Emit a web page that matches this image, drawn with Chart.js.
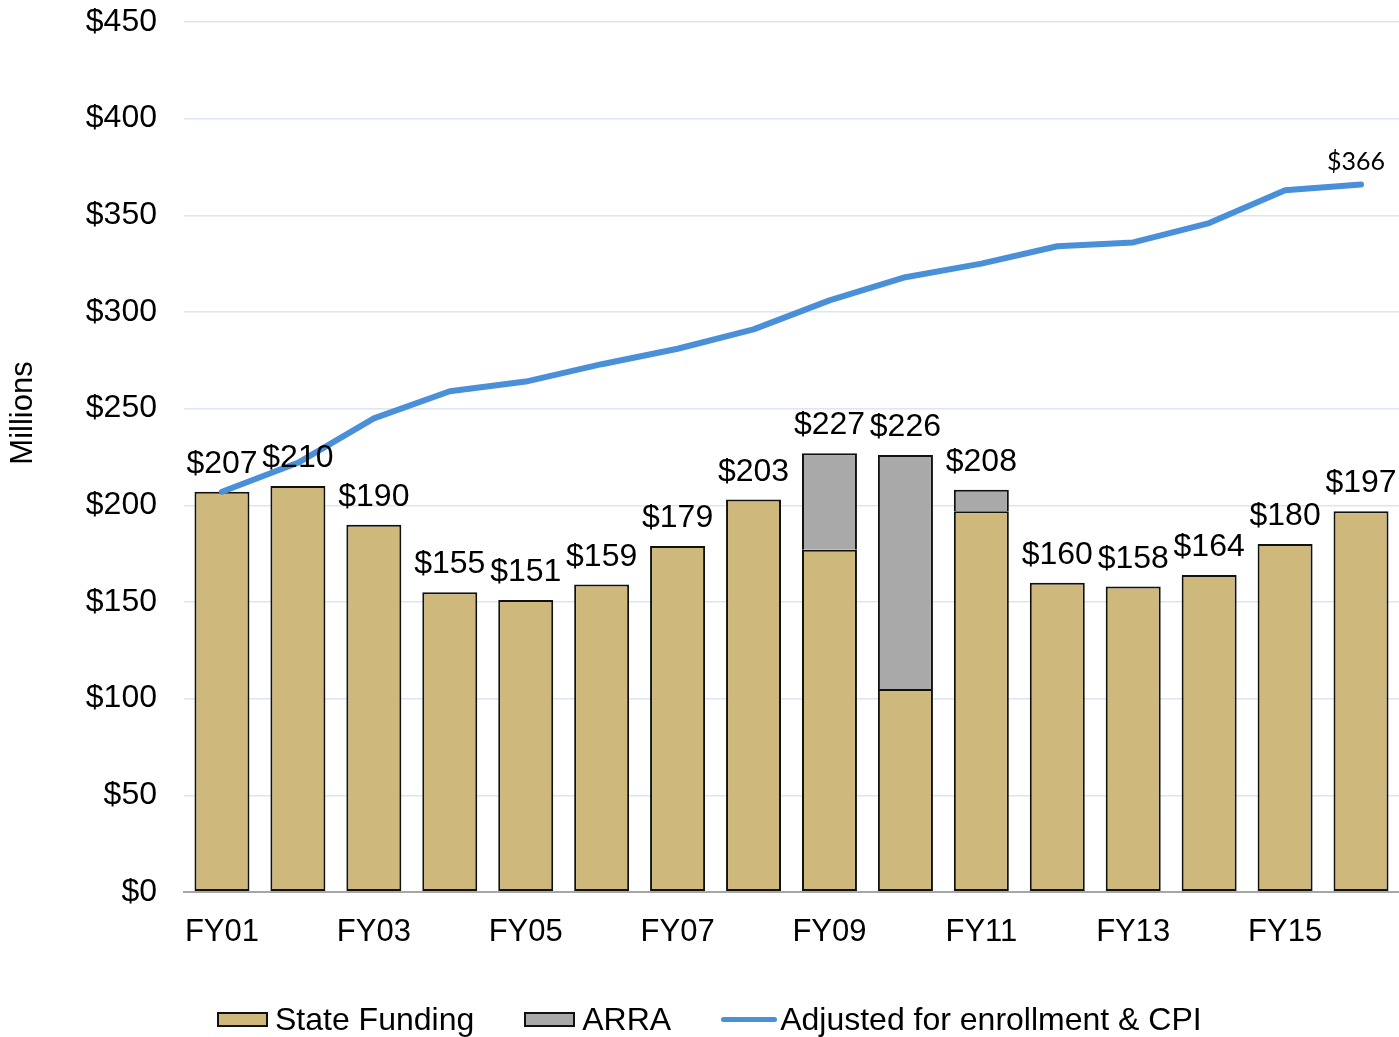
<!DOCTYPE html>
<html>
<head>
<meta charset="utf-8">
<script src="https://cdn.jsdelivr.net/npm/chart.js@4"></script>
<style>
  body { margin: 0; background: #fff; }
  #wrap { position: relative; width: 1399px; height: 1037px; }
  #legend {
    position: absolute; left: 217px; top: 999px; height: 40px;
    display: flex; align-items: center;
    font-family: "Liberation Sans", Arial, sans-serif; font-size: 32px; color: #000;
  }
  .item { display: flex; align-items: center; margin-right: 50px; }
  .box { width: 47px; height: 11px; border: 2px solid #111; margin-right: 7px; }
  .ln { width: 56px; height: 5px; border-radius: 3px; background: #4a90d9; margin-right: 3px; }
</style>
</head>
<body>
<div id="wrap">
  <canvas id="myChart" width="1399" height="1037"></canvas>
  <div id="legend">
    <div class="item"><div class="box" style="background:#cfb87c"></div>State Funding</div>
    <div class="item"><div class="box" style="background:#a9a9a9"></div>ARRA</div>
    <div class="item"><div class="ln"></div>Adjusted for enrollment &amp; CPI</div>
  </div>
</div>
<script>
const years = ["FY01", "FY02", "FY03", "FY04", "FY05", "FY06", "FY07", "FY08",
  "FY09", "FY10", "FY11", "FY12", "FY13", "FY14", "FY15", "FY16"];
const stateFunding = [207, 210, 190, 155, 151, 159, 179, 203, 177, 105, 197, 160, 158, 164, 180, 197];
const arra = [0, 0, 0, 0, 0, 0, 0, 0, 50, 121, 11, 0, 0, 0, 0, 0];
const adjusted = [207, 222, 245, 259, 264, 273, 281, 291, 306, 318, 325, 334, 336, 346, 363, 366];
const yTicks = [0, 50, 100, 150, 200, 250, 300, 350, 400, 450];

const FONT = '"Liberation Sans", Arial, sans-serif';

// labels above each stacked bar, plus the last point of the line
const labelPlugin = {
  id: "labels",
  afterDatasetsDraw(chart) {
    const c = chart.ctx;
    const x = chart.scales.x, y = chart.scales.y;
    c.save();
    c.fillStyle = "#000";
    c.font = "32px " + FONT;
    c.textAlign = "center";
    c.textBaseline = "alphabetic";
    years.forEach((yr, i) => {
      const total = stateFunding[i] + arra[i];
      c.fillText("$" + total, x.getPixelForValue(i), y.getPixelForValue(total) - 19);
    });
    const last = adjusted.length - 1;
    c.font = "25px Lato, sans-serif";
    c.fillText("$" + adjusted[last], x.getPixelForValue(last) - 5, y.getPixelForValue(adjusted[last]) - 14);
    // axis title
    c.translate(23, 413);
    c.rotate(-Math.PI / 2);
    c.font = "31px " + FONT;
    c.textBaseline = "middle";
    c.fillText("Millions", 0, 0);
    c.restore();
  }
};

const ctx = document.getElementById("myChart");

new Chart(ctx, {
  type: "bar",
  data: {
    labels: years,
    datasets: [
      {
        type: "line",
        label: "Adjusted for enrollment & CPI",
        data: adjusted,
        borderColor: "#4a90d9",
        backgroundColor: "#4a90d9",
        borderWidth: 6,
        borderCapStyle: "round",
        borderJoinStyle: "round",
        pointRadius: 0,
        tension: 0,
        stack: "line",
        order: 0,
      },
      {
        label: "State Funding",
        data: stateFunding,
        backgroundColor: "#cfb87c",
        borderColor: "#111",
        borderWidth: 2,
        borderSkipped: false,
        stack: "funding",
        order: 1,
      },
      {
        label: "ARRA",
        data: arra,
        backgroundColor: "#a9a9a9",
        borderColor: "#111",
        borderWidth: 2,
        borderSkipped: "bottom",
        stack: "funding",
        order: 2,
      },
    ],
  },
  options: {
    responsive: false,
    devicePixelRatio: 1,
    animation: false,
    barPercentage: 0.724,
    categoryPercentage: 1,
    layout: { padding: { top: 22, bottom: 75, left: 0, right: 0 } },
    scales: {
      x: {
        stacked: true,
        grid: { display: false },
        border: { display: true, color: "#a6a6a6", width: 2 },
        ticks: {
          autoSkip: false,
          maxRotation: 0,
          padding: 14,
          color: "#000",
          font: { family: FONT, size: 31 },
          callback: (v, i) => (i % 2 === 0 ? years[i] : ""),
        },
        afterFit: (s) => { s.height = 70; s.paddingLeft = 0; s.paddingRight = 0; },
      },
      y: {
        stacked: true,
        min: 0,
        max: 450,
        afterBuildTicks: (s) => { s.ticks = yTicks.map((v) => ({ value: v })); },
        grid: {
          drawTicks: false,
          color: (c) => (c.tick && c.tick.value === 0 ? "#a6a6a6" : "#dce5f1"),
          lineWidth: (c) => (c.tick && c.tick.value === 0 ? 2 : 1.5),
        },
        border: { display: false },
        ticks: {
          padding: 27,
          color: "#000",
          font: { family: FONT, size: 32 },
          callback: (v) => "$" + v,
        },
        afterFit: (s) => { s.width = 184; s.paddingTop = 0; s.paddingBottom = 0; },
      },
    },
    plugins: {
      legend: { display: false },
      tooltip: { enabled: false },
    },
  },
  plugins: [labelPlugin],
});
</script>
</body>
</html>
